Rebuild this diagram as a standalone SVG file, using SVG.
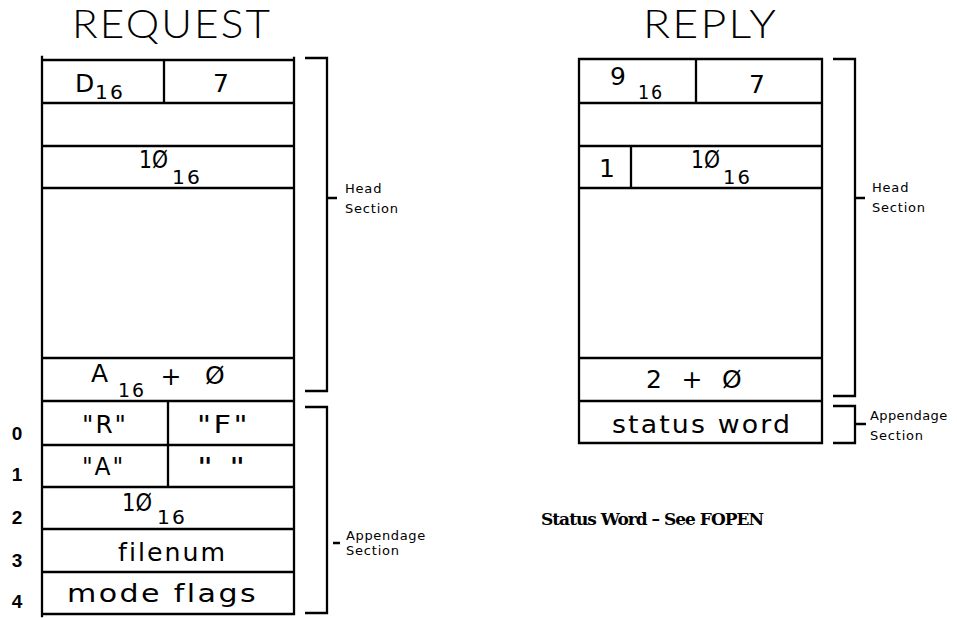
<svg xmlns="http://www.w3.org/2000/svg" width="957" height="618" viewBox="0 0 957 618">
<style>
.ln{stroke:#000;stroke-width:2.3;fill:none;stroke-linecap:square}
.br{stroke:#000;stroke-width:2.3;fill:none}
.t{font-family:"DejaVu Sans","Liberation Sans",sans-serif;fill:#000}
.m{font-size:25px;letter-spacing:2px}
.z{font-size:25px}
.s{font-size:19px;letter-spacing:2px}
.ti{font-family:"Lato","DejaVu Sans",sans-serif;font-weight:300;font-size:40px;letter-spacing:2px}
.lb{font-size:13px;letter-spacing:0.8px}
.num{font-family:"Liberation Sans",Arial,sans-serif;font-size:19px;font-weight:bold}
.st{font-family:"DejaVu Serif","Liberation Serif",serif;font-weight:bold;font-size:17px;fill:#000}
</style>
<rect width="957" height="618" fill="#fff"/>

<g id="titles">
<text class="t ti" x="72" y="38" textLength="200" lengthAdjust="spacingAndGlyphs">REQUEST</text>
<text class="t ti" x="643" y="38" textLength="135" lengthAdjust="spacingAndGlyphs">REPLY</text>
</g>

<g id="request">
<path class="ln" d="M42,57V616M294,58V614M43,60H293M43,103H293M43,146H293M43,188H293M43,358H293M43,401H293M43,445H293M43,487H293M43,529H293M43,572H293M43,614H293M164,60V103M168,401V487"/>
<text class="t z" x="75" y="92">D</text>
<text class="t s" x="95" y="99" textLength="30" lengthAdjust="spacingAndGlyphs">16</text>
<text class="t z" x="221" y="92" text-anchor="middle">7</text>
<text class="t z" x="139" y="168" textLength="29" lengthAdjust="spacingAndGlyphs">1Ø</text>
<text class="t s" x="172" y="184" textLength="30" lengthAdjust="spacingAndGlyphs">16</text>
<text class="t z" x="91" y="382">A</text>
<text class="t s" x="118" y="397" textLength="28" lengthAdjust="spacingAndGlyphs">16</text>
<text class="t z" x="171" y="385" text-anchor="middle">+</text>
<text class="t z" x="205" y="384">Ø</text>
<text class="t m" x="82" y="433" textLength="46" lengthAdjust="spacingAndGlyphs">"R"</text>
<text class="t m" x="197" y="433" textLength="53" lengthAdjust="spacingAndGlyphs">"F"</text>
<text class="t m" x="82" y="475" textLength="43" lengthAdjust="spacingAndGlyphs">"A"</text>
<text class="t m" x="197" y="475" textLength="51" lengthAdjust="spacingAndGlyphs">" "</text>
<text class="t z" x="122" y="511" textLength="30" lengthAdjust="spacingAndGlyphs">1Ø</text>
<text class="t s" x="157" y="524" textLength="30" lengthAdjust="spacingAndGlyphs">16</text>
<text class="t m" x="118" y="561" textLength="109" lengthAdjust="spacingAndGlyphs">filenum</text>
<text class="t m" x="67" y="602" textLength="191" lengthAdjust="spacingAndGlyphs">mode flags</text>
</g>

<g id="row-numbers">
<text class="num" x="17" y="440" text-anchor="middle">0</text>
<text class="num" x="17" y="481" text-anchor="middle">1</text>
<text class="num" x="17" y="524" text-anchor="middle">2</text>
<text class="num" x="17" y="567" text-anchor="middle">3</text>
<text class="num" x="17" y="608" text-anchor="middle">4</text>
</g>

<g id="reply">
<path class="ln" d="M579,59V443M822,59V443M580,59H821M580,103H821M580,146H821M580,188H821M580,358H821M580,401H821M580,443H821M696,59V103M631,146V188"/>
<text class="t z" x="610" y="85">9</text>
<text class="t s" x="638" y="99" textLength="26" lengthAdjust="spacingAndGlyphs">16</text>
<text class="t z" x="757" y="93" text-anchor="middle">7</text>
<text class="t z" x="607" y="177" text-anchor="middle">1</text>
<text class="t z" x="691" y="168" textLength="29" lengthAdjust="spacingAndGlyphs">1Ø</text>
<text class="t s" x="723" y="184" textLength="29" lengthAdjust="spacingAndGlyphs">16</text>
<text class="t z" x="646" y="388">2</text>
<text class="t z" x="692" y="388" text-anchor="middle">+</text>
<text class="t z" x="722" y="388">Ø</text>
<text class="t m" x="612" y="433" textLength="180" lengthAdjust="spacingAndGlyphs">status word</text>
</g>

<g id="connectors">
<path class="br" d="M305,58H327V391H305M327,198H337"/>
<path class="br" d="M305,407H327V613H305M333,543H340"/>
<path class="br" d="M833,59H855V396H833M855,198H865"/>
<path class="br" d="M833,406H855V443H833M855,424H866"/>
</g>

<g id="section-labels">
<text class="t lb" x="345" y="193">Head</text>
<text class="t lb" x="345" y="213">Section</text>
<text class="t lb" x="346" y="540" textLength="80">Appendage</text>
<text class="t lb" x="346" y="555">Section</text>
<text class="t lb" x="872" y="192">Head</text>
<text class="t lb" x="872" y="212">Section</text>
<text class="t lb" x="870" y="420" textLength="78">Appendage</text>
<text class="t lb" x="870" y="440">Section</text>
</g>

<g id="note">
<text class="st" x="541" y="525" textLength="223">Status Word – See FOPEN</text>
</g>
</svg>
